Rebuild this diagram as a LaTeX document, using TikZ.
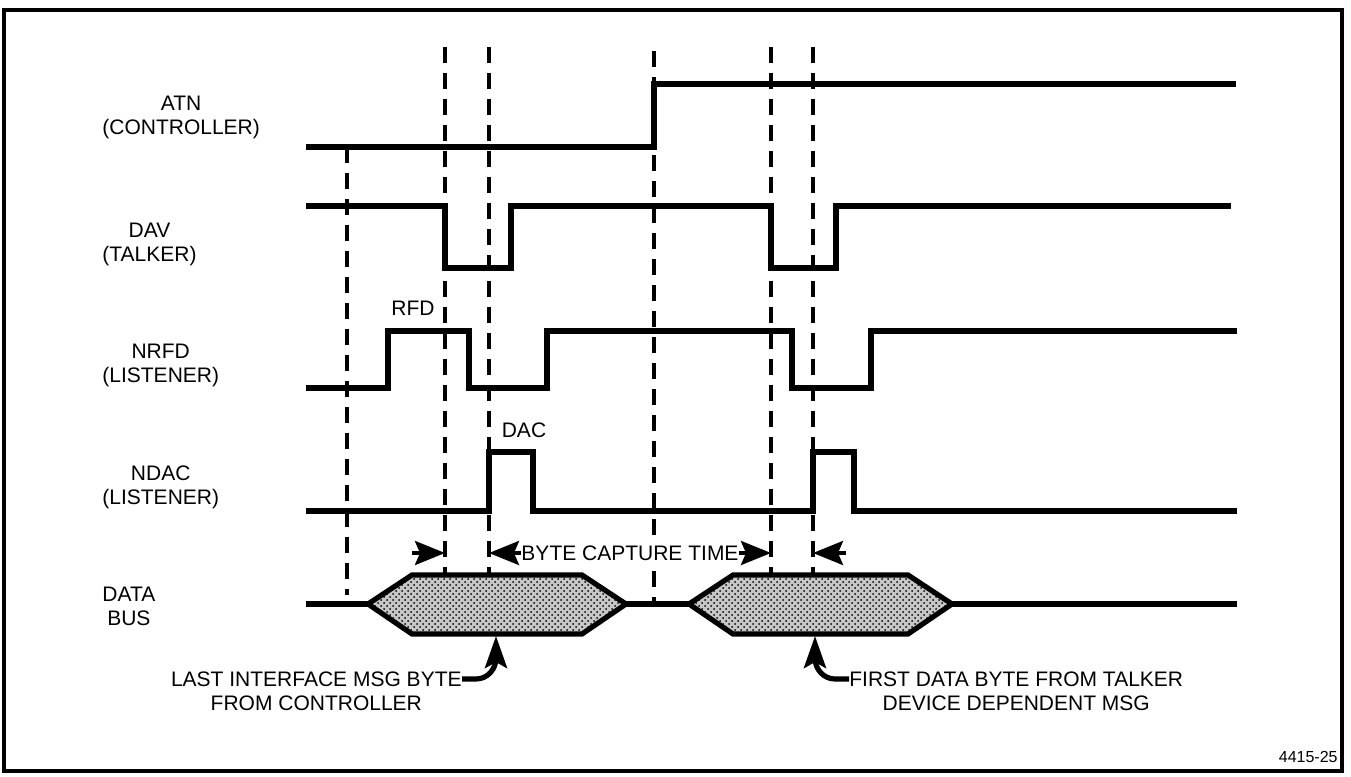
\documentclass[tikz,border=0pt]{standalone}
\usepackage{fontspec}
\setmainfont{Liberation Sans}
\usetikzlibrary{arrows.meta, positioning, patterns}
\tikzset{sig/.style={line width=2.6pt, line join=miter},
  guide/.style={line width=1.7pt, dash pattern=on 8pt off 5pt},
  dimarrow/.style={line width=1.8pt, -{Stealth[length=15pt, width=12pt, inset=2.5pt]}},
  callout/.style={line width=2.6pt, -{Stealth[length=16pt, width=11pt, inset=3pt]}},
  txt/.style={inner sep=0pt, align=center, font=\fontsize{10.5}{12}\selectfont}}
\newcommand{\guideline}[3]{\draw[guide] (#1,#2) -- (#1,#3);}
\newcommand{\busbyte}[2]{\filldraw[sig, fill=black!22, postaction={pattern=crosshatch dots}] (#1,604) -- (#1+44,575) -- (#2-44,575) -- (#2,604) -- (#2-44,634) -- (#1+44,634) -- cycle;}

\begin{document}
\begin{tikzpicture}[x=0.5pt, y=-0.5pt]
\useasboundingbox (0,0) rectangle (1351,777);
\draw[line width=1.6pt] (4,10) rectangle (1342,771);
% signal names
\node[txt, anchor=west] (atn) at (102,117) {ATN\\(CONTROLLER)};
\node[txt, anchor=west] (dav) at (102,244) {DAV\\(TALKER)};
\node[txt, anchor=west] (nrfd) at (102,365) {NRFD\\(LISTENER)};
\node[txt, anchor=west] (ndac) at (102,487) {NDAC\\(LISTENER)};
\node[txt, anchor=west] (bus) at (102,606) {DATA\\BUS};
% timing marks
\guideline{347}{147}{595}
\guideline{445}{47}{575}
\guideline{489}{47}{575}
\guideline{654}{51}{603}
\guideline{771}{47}{575}
\guideline{813}{47}{575}
% handshake lines
\draw[sig] (306,147) -- (654,147) -- (654,84) -- (1236,84);
\draw[sig] (306,206) -- (445,206) -- (445,268) -- (511,268) -- (511,206) -- (771,206) -- (771,268) -- (836,268) -- (836,206) -- (1231,206);
\draw[sig] (306,388) -- (388,388) -- (388,331) -- (469,331) -- (469,388) -- (547,388) -- (547,331) -- (792,331) -- (792,388) -- (871,388) -- (871,331) -- (1237,331);
\draw[sig] (306,511) -- (489,511) -- (489,452) -- (533,452) -- (533,511) -- (813,511) -- (813,452) -- (854,452) -- (854,511) -- (1237,511);
\node[txt] (rfd) at (413,308) {RFD};
\node[txt] (dac) at (524,430) {DAC};
% data bus
\draw[sig] (306,604) -- (368,604);
\draw[sig] (626,604) -- (689,604);
\draw[sig] (952,604) -- (1237,604);
\busbyte{368}{626}
\busbyte{689}{952}
% capture time
\node[txt, fill=white, inner ysep=2pt] (bct) at (630,553) {BYTE CAPTURE TIME};
\coordinate (g2) at (445,553);
\coordinate (g3) at (489,553);
\coordinate (g5) at (771,553);
\coordinate (g6) at (813,553);
\draw[dimarrow] (412,553) -- (g2);
\draw[dimarrow] (bct.west) -- (g3);
\draw[dimarrow] (bct.east) -- (g5);
\draw[dimarrow] (846,553) -- (g6);
% byte callouts
\node[txt, anchor=east] (lastA) at (462,679) {LAST INTERFACE MSG BYTE};
\node[txt, below=4.5pt of lastA] (lastB) {FROM CONTROLLER};
\coordinate (lastTip) at (496,636);
\draw[callout] (lastA.east) -- ++(14,0) to[out=0, in=-90] (496,658) -- (lastTip);
\node[txt, anchor=west] (firstA) at (849,679) {FIRST DATA BYTE FROM TALKER};
\node[txt, below=4.5pt of firstA] (firstB) {DEVICE DEPENDENT MSG};
\coordinate (firstTip) at (815,636);
\draw[callout] (firstA.west) -- ++(-14,0) to[out=180, in=-90] (815,658) -- (firstTip);
\node[inner sep=0pt, anchor=east, font=\fontsize{8}{9}\selectfont] (figno) at (1338,757) {4415-25};
\end{tikzpicture}
\end{document}
